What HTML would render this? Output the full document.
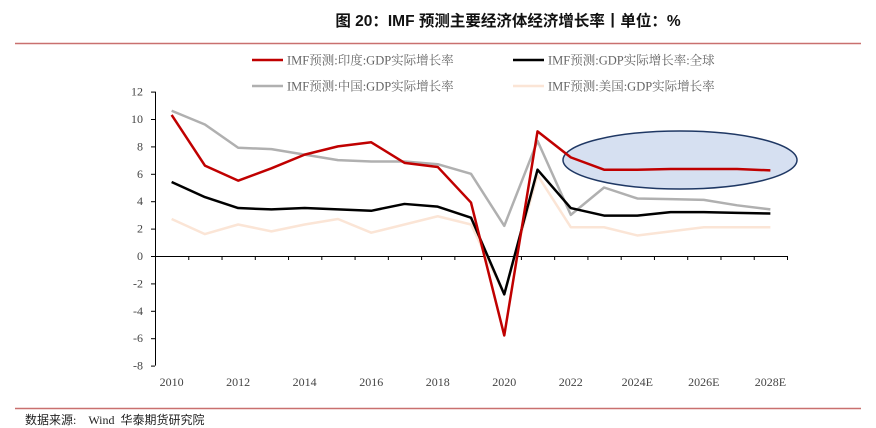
<!DOCTYPE html>
<html><head><meta charset="utf-8">
<style>
body{margin:0;width:876px;height:428px;background:#fff;overflow:hidden;font-family:"Liberation Serif","Noto Serif CJK SC",serif;}
svg{position:absolute;left:0;top:0}
</style></head>
<body>
<svg width="876" height="428" id="c">
<text x="508" y="26" text-anchor="middle" font-family="Liberation Sans,'Noto Sans CJK SC',sans-serif" font-weight="bold" font-size="15.5" fill="#111">图 20：IMF 预测主要经济体经济增长率丨单位：%</text>
<line x1="15" y1="43.5" x2="861" y2="43.5" stroke="#c9706f" stroke-width="1.5"/>
<line x1="15" y1="408.5" x2="861" y2="408.5" stroke="#c9706f" stroke-width="1.5"/>
<text x="25" y="424" font-size="12" fill="#222" font-family="Liberation Serif,'Noto Sans CJK SC',serif" xml:space="preserve" style="white-space:pre">数据来源:    Wind  华泰期货研究院</text>
<g id="legend"></g>
<g id="axes"></g>
<ellipse cx="680" cy="160" rx="117" ry="29" fill="#d6e0f1" stroke="#1f3864" stroke-width="1.5"/>
<g id="series"></g>
</svg>
<script>
const years=["2010","2011","2012","2013","2014","2015","2016","2017","2018","2019","2020","2021","2022","2023","2024E","2025E","2026E","2027E","2028E"];
const xLabels=["2010","2012","2014","2016","2018","2020","2022","2024E","2026E","2028E"];
const yTicks=[12,10,8,6,4,2,0,-2,-4,-6,-8];
const india=[10.3,6.6,5.5,6.4,7.4,8.0,8.3,6.8,6.5,3.9,-5.8,9.1,7.2,6.3,6.3,6.35,6.35,6.35,6.25];
const world=[5.4,4.3,3.5,3.4,3.5,3.4,3.3,3.8,3.6,2.8,-2.8,6.3,3.5,2.95,2.95,3.2,3.2,3.15,3.1];
const china=[10.6,9.6,7.9,7.8,7.4,7.0,6.9,6.9,6.7,6.0,2.2,8.4,3.0,5.0,4.2,4.15,4.1,3.7,3.4];
const us=[2.7,1.6,2.3,1.8,2.3,2.7,1.7,2.3,2.9,2.3,-2.8,5.9,2.1,2.1,1.5,1.8,2.1,2.1,2.1];
const NS="http://www.w3.org/2000/svg";
const X0=155,X1=787,step=(X1-X0)/years.length;
const x=i=>X0+step*(i+0.5);
const y=v=>256-v*13.7;
function mk(t,a,p){const e=document.createElementNS(NS,t);for(const k in a)e.setAttribute(k,a[k]);p.appendChild(e);return e;}
const ax=document.getElementById('axes');
const ya=mk('line',{x1:X0+.5,y1:y(12),x2:X0+.5,y2:y(-8),stroke:'#000','stroke-width':1},ax);


const xa=mk('line',{x1:X0,y1:y(0)+.5,x2:X1,y2:y(0)+.5,stroke:'#000','stroke-width':1},ax);


yTicks.forEach(v=>{
 mk('line',{x1:X0-4,y1:y(v)+.5,x2:X0,y2:y(v)+.5,stroke:'#000'},ax);
 const t=mk('text',{x:X0-12,y:y(v)+4,'text-anchor':'end','font-size':12,fill:'#444'},ax);t.textContent=v;
 
 
});
for(let i=0;i<=years.length;i++){mk('line',{x1:X0+step*i+.5,y1:y(0),x2:X0+step*i+.5,y2:y(0)+4,stroke:'#000'},ax);}
xLabels.forEach(l=>{const i=years.indexOf(l);
 const t=mk('text',{x:x(i),y:386,'text-anchor':'middle','font-size':12,fill:'#444'},ax);t.textContent=l;
 
 
});
const sg=document.getElementById('series');
const defs=[[us,'#fbe5d6','series-us'],[china,'#b0b0b0','series-china'],[world,'#000','series-world'],[india,'#c00000','series-india']];
defs.forEach(([d,c,n])=>{
 const p=mk('polyline',{points:d.map((v,i)=>x(i)+','+y(v)).join(' '),fill:'none',stroke:c,'stroke-width':2.5,'stroke-linejoin':'round'},sg);
 
 
});
const lg=document.getElementById('legend');
const leg=[[252,60,'#c00000','IMF预测:印度:GDP实际增长率'],[513,60,'#000','IMF预测:GDP实际增长率:全球'],[252,86,'#b0b0b0','IMF预测:中国:GDP实际增长率'],[513,86,'#fbe5d6','IMF预测:美国:GDP实际增长率']];
leg.forEach(([lx,ly,c,s])=>{
 const g=mk('g',{},lg);
 
 
 mk('line',{x1:lx,y1:ly,x2:lx+31,y2:ly,stroke:c,'stroke-width':2.5},g);
 const t=mk('text',{x:lx+35,y:ly+4.5,'font-size':12.5,fill:'#666'},g);t.textContent=s;
});
</script>
</body></html>
